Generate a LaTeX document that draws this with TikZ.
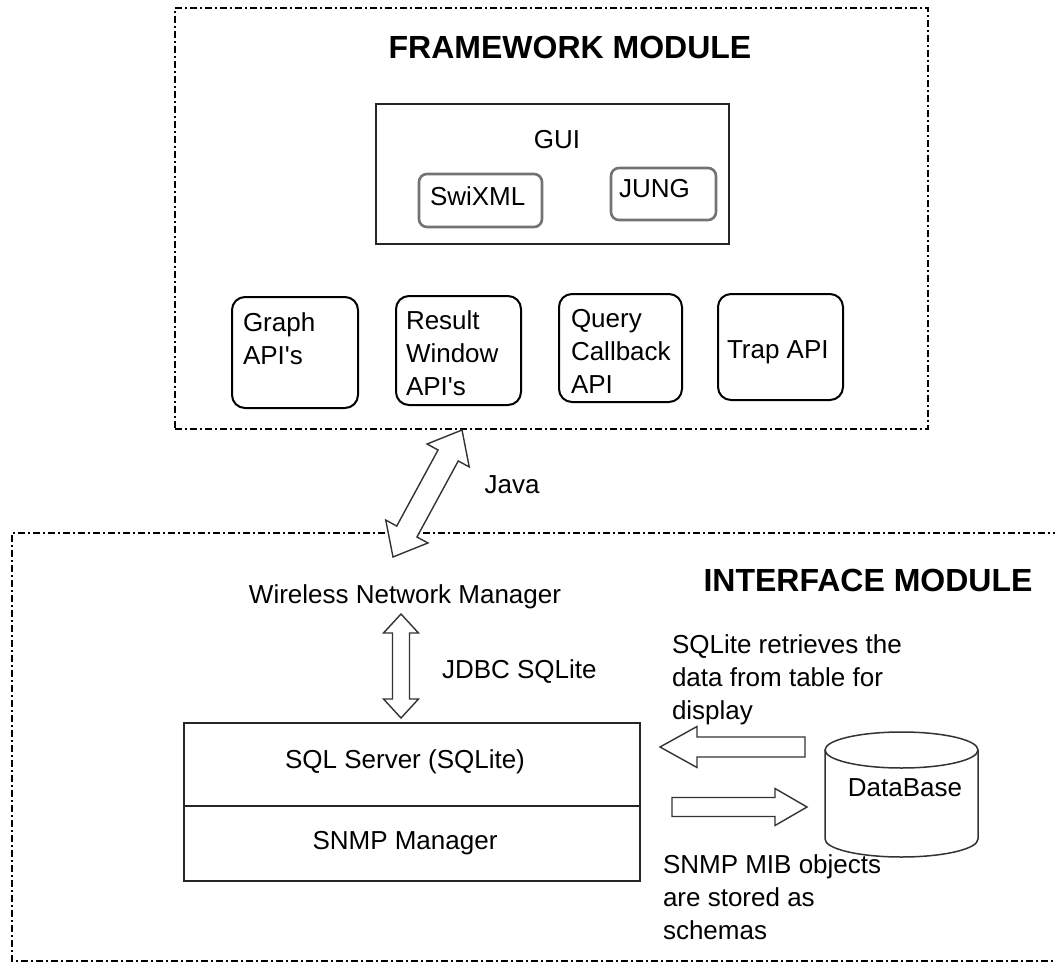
\documentclass[tikz,border=0pt]{standalone}
\usepackage{fontspec}
\setmainfont{Liberation Sans}
\newfontfamily\nomapfont{Liberation Sans}
\usetikzlibrary{calc}

\newcommand{\dblblockarrow}[5]{% A, B, half shaft, half head, head length
  \coordinate (#1-h) at ($(#1)!#5!(#2)$);
  \coordinate (#2-h) at ($(#2)!#5!(#1)$);
  \draw[blockarrow] (#1) -- ($(#1-h)!#4!90:(#2)$) -- ($(#1-h)!#3!90:(#2)$)
    -- ($(#2-h)!#3!-90:(#1)$) -- ($(#2-h)!#4!-90:(#1)$) -- (#2)
    -- ($(#2-h)!#4!90:(#1)$) -- ($(#2-h)!#3!90:(#1)$)
    -- ($(#1-h)!#3!-90:(#2)$) -- ($(#1-h)!#4!-90:(#2)$) -- cycle;}

\newcommand{\sglblockarrow}[5]{% tail, tip, half shaft, half head, head length
  \coordinate (#2-h) at ($(#2)!#5!(#1)$);
  \draw[blockarrow] ($(#1)!#3!90:(#2)$) -- ($(#2-h)!#3!-90:(#1)$)
    -- ($(#2-h)!#4!-90:(#1)$) -- (#2) -- ($(#2-h)!#4!90:(#1)$)
    -- ($(#2-h)!#3!90:(#1)$) -- ($(#1)!#3!-90:(#2)$) -- cycle;}

\newcommand{\apos}{{\nomapfont '}}

\begin{document}
\begin{tikzpicture}[x=1pt,y=-1pt,
  every node/.style={inner sep=0pt, outer sep=0pt, font=\fontsize{26}{33}\selectfont},
  frame/.style={draw=black, line width=1.6pt, dash pattern=on 7pt off 3pt on 2pt off 3pt},
  plainbox/.style={draw=black!85, line width=2pt},
  apibox/.style={draw=black, line width=2pt, rounded corners=13pt},
  guibox/.style={draw=black!55, line width=2.6pt, rounded corners=8pt},
  title/.style={font=\fontsize{32}{36}\selectfont\bfseries},
  lbl/.style={align=left, anchor=west},
  blockarrow/.style={draw=black!80, line width=1.4pt, fill=white, line join=miter}]

\useasboundingbox[fill=white] (0,0) rectangle (1055,963);

% Framework module
\node[frame, minimum width=753, minimum height=421] (fw) at (551.5,218.5) {};
\node[title] (fwt) at (570,47) {FRAMEWORK MODULE};

\node[plainbox, minimum width=353, minimum height=140] (gui) at (552.5,174) {};
\node (guit) at (557,140) {GUI};
\node[guibox, minimum width=123, minimum height=53] (swi) at (480.5,200.5) {};
\node[lbl] (swit) at (430,196) {SwiXML};
\node[guibox, minimum width=105, minimum height=52] (jung) at (663.5,194) {};
\node[lbl] (jungt) at (619,189) {JUNG};

\node[apibox, minimum width=126, minimum height=111] (graph) at (295,352.5) {};
\node[lbl] (grapht) at (243,338.5) {Graph\\API\apos s};
\node[apibox, minimum width=125, minimum height=109] (result) at (458.5,350.5) {};
\node[lbl] (resultt) at (406,353) {Result\\Window\\API\apos s};
\node[apibox, minimum width=123, minimum height=108] (query) at (620.5,348) {};
\node[lbl] (queryt) at (571,351) {Query\\Callback\\API};
\node[apibox, minimum width=125, minimum height=106] (trap) at (780.5,347) {};
\node[lbl] (trapt) at (727,352) {Trap API};

% Interface module frame (open to the right)
\draw[frame] (1060,533) -- (12,533) -- (12,961) -- (1060,961);
\node[title] (ift) at (868,580) {INTERFACE MODULE};

% Java arrow
\coordinate (jtop) at (462,430);
\coordinate (jbot) at (393,557);
\dblblockarrow{jtop}{jbot}{11.5pt}{24pt}{29pt}
\node (java) at (512,485) {Java};

\node (wnm) at (405,597) {Wireless Network Manager};

% JDBC arrow
\coordinate (dtop) at (401,614);
\coordinate (dbot) at (401,718);
\dblblockarrow{dtop}{dbot}{8.5pt}{17.5pt}{19pt}
\node[lbl] (jdbc) at (442,672) {JDBC SQLite};

% SQL box
\node[plainbox, minimum width=456, minimum height=158] (sql) at (412,802) {};
\draw[plainbox] (sql.west |- 0,806) -- (sql.east |- 0,806);
\node (sqlt) at (405,762) {SQL Server (SQLite)};
\node (snmpt) at (405,843) {SNMP Manager};

% Database cylinder
\coordinate (dbc) at (901.5,750);
\draw[black!80, line width=1.5pt]
  (825,750) -- (825,839) arc[start angle=180, end angle=360, x radius=76.5, y radius=-18]
  -- (978,750);
\draw[black!80, line width=1.5pt] (dbc) ellipse[x radius=76.5, y radius=18];
\node (db) at (905,788) {DataBase};

% side arrows
\coordinate (la1) at (805,747);
\coordinate (la2) at (660,747);
\sglblockarrow{la1}{la2}{10pt}{20.5pt}{37pt}
\coordinate (ra1) at (672,807);
\coordinate (ra2) at (807,807);
\sglblockarrow{ra1}{ra2}{9.5pt}{18.5pt}{32pt}

\node[lbl] (ret) at (672,680) {SQLite retrieves the\\data from table for\\display};
\node[lbl] (mib) at (663,897) {SNMP MIB objects\\are stored as\\schemas};
\end{tikzpicture}
\end{document}
